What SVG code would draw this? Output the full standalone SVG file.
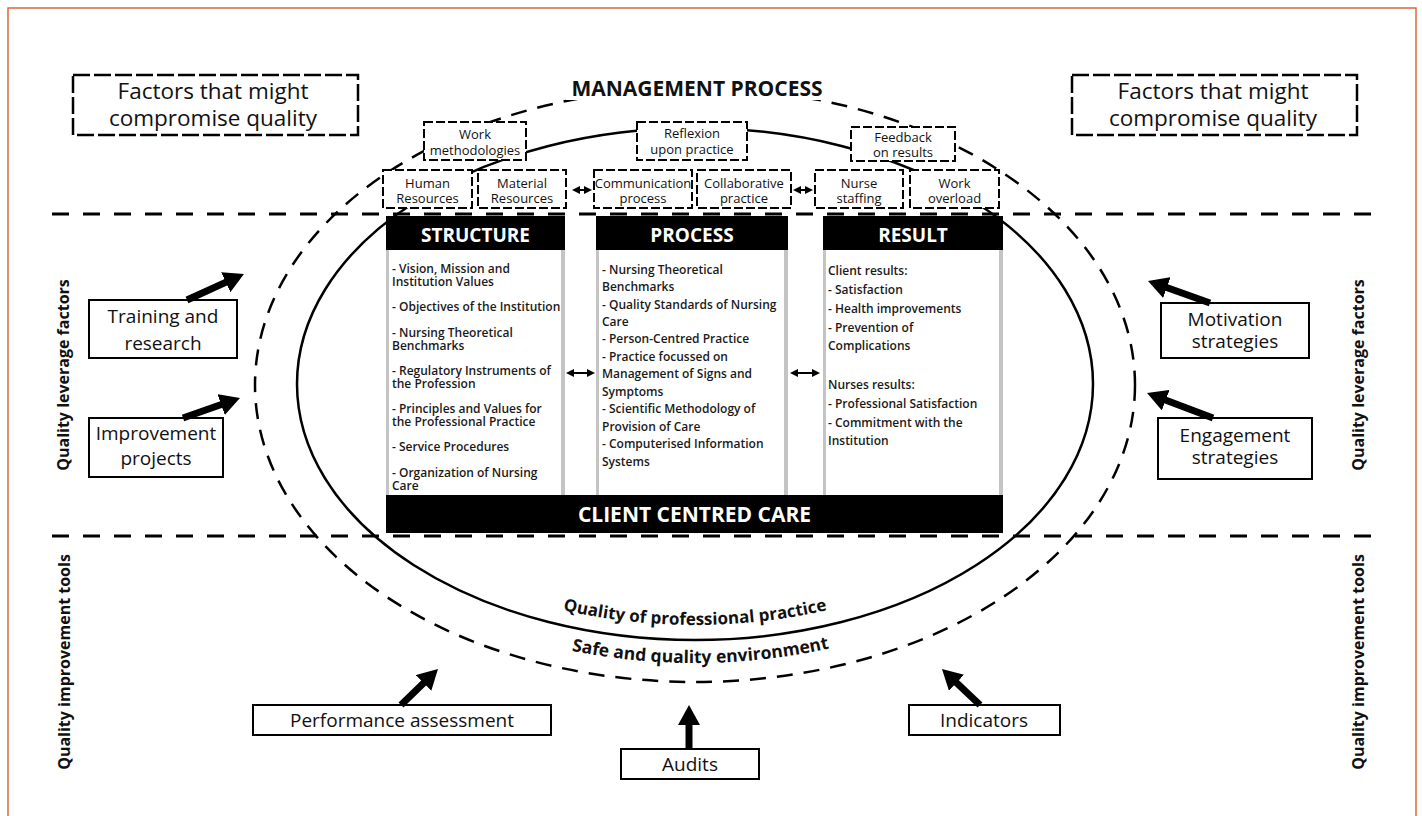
<svg xmlns="http://www.w3.org/2000/svg" width="1422" height="816" viewBox="0 0 1422 816">
<style>
.frame{fill:none;stroke:#d9683b;stroke-width:1.5}
.sep{stroke:#000;stroke-width:3;stroke-dasharray:17 14;fill:none}
.ell{fill:none;stroke:#000;stroke-width:2.5}
.dell{fill:none;stroke:#000;stroke-width:2.5;stroke-dasharray:16 11}
.dbox{fill:#fff;stroke:#000;stroke-width:2.5;stroke-dasharray:17 4}
.sbox{fill:#fff;stroke:#000;stroke-width:2;stroke-dasharray:9 3}
.box{fill:#fff;stroke:#000;stroke-width:2}
text{font-family:"Open Sans","DejaVu Sans",sans-serif;fill:#111}
.big{font-size:22.5px;text-anchor:middle}
.sm{font-size:13px;text-anchor:middle}
.lbl{font-size:19px;text-anchor:middle}
.side{font-size:16px;font-weight:700;text-anchor:middle}
.hdr{font-size:19px;font-weight:700;fill:#fff;text-anchor:middle}
.col{font-size:12px;font-weight:600;fill:#1a1a1a}
.curve{font-size:17px;font-weight:700;text-anchor:middle}
.mp{font-size:21px;font-weight:700;text-anchor:middle}
.thick{stroke:#000;stroke-width:7;fill:none;marker-end:url(#big)}
.dbl{stroke:#000;stroke-width:2;marker-start:url(#sa);marker-end:url(#sa)}
.colbg{fill:#c4c4c4}
.colw{fill:#fff}
.blk{fill:#000}
</style>
<defs>
<marker id="big" markerUnits="userSpaceOnUse" viewBox="0 0 20 22" markerWidth="20" markerHeight="22" refX="4" refY="11" orient="auto"><path d="M0,0 L20,11 L0,22 Z" fill="#000"/></marker>
<marker id="sa" markerUnits="userSpaceOnUse" viewBox="0 0 8 8" markerWidth="8" markerHeight="8" refX="6" refY="4" orient="auto-start-reverse"><path d="M0,0 L8,4 L0,8 Z" fill="#000"/></marker>
<path id="p1" d="M 315 384 A 380 241 0 0 0 1075 384"/>
<path id="p2" d="M 275 384 A 420 279 0 0 0 1115 384"/>
</defs>

<rect class="frame" x="8" y="8" width="1408" height="830"/>

<g id="ellipses">
<ellipse class="dell" cx="695" cy="385" rx="440" ry="297"/>
<ellipse class="ell" cx="695" cy="384" rx="398" ry="256"/>
</g>

<g id="management-process">
<rect x="566" y="78" width="264" height="22" fill="#fff"/>
<text class="mp" x="697" y="96">MANAGEMENT PROCESS</text>
</g>

<g id="factors-left"><rect class="dbox" x="73" y="75" width="285" height="60"/><text class="big" x="213" y="99">Factors that might</text><text class="big" x="213" y="126">compromise quality</text></g>
<g id="factors-right"><rect class="dbox" x="1072" y="75" width="285" height="60"/><text class="big" x="1213" y="99">Factors that might</text><text class="big" x="1213" y="126">compromise quality</text></g>

<g id="work-methodologies"><rect class="sbox" x="424" y="122" width="102" height="38"/><text class="sm" x="475" y="139">Work</text><text class="sm" x="475" y="155">methodologies</text></g>
<g id="reflexion"><rect class="sbox" x="637" y="122" width="110" height="38"/><text class="sm" x="692" y="138">Reflexion</text><text class="sm" x="692" y="154">upon practice</text></g>
<g id="feedback"><rect class="sbox" x="851" y="127" width="104" height="34"/><text class="sm" x="903" y="142">Feedback</text><text class="sm" x="903" y="157">on results</text></g>

<g id="human-resources"><rect class="sbox" x="383" y="170" width="89" height="38"/><text class="sm" x="427.5" y="188">Human</text><text class="sm" x="427.5" y="203">Resources</text></g>
<g id="material-resources"><rect class="sbox" x="478" y="170" width="88" height="38"/><text class="sm" x="522" y="188">Material</text><text class="sm" x="522" y="203">Resources</text></g>
<g id="communication-process"><rect class="sbox" x="594" y="170" width="98" height="38"/><text class="sm" x="643" y="188">Communication</text><text class="sm" x="643" y="203">process</text></g>
<g id="collaborative-practice"><rect class="sbox" x="697" y="170" width="94" height="38"/><text class="sm" x="744" y="188">Collaborative</text><text class="sm" x="744" y="203">practice</text></g>
<g id="nurse-staffing"><rect class="sbox" x="815" y="170" width="88" height="38"/><text class="sm" x="859" y="188">Nurse</text><text class="sm" x="859" y="203">staffing</text></g>
<g id="work-overload"><rect class="sbox" x="910" y="170" width="89" height="38"/><text class="sm" x="954.5" y="188">Work</text><text class="sm" x="954.5" y="203">overload</text></g>

<g id="structure">
<rect class="colbg" x="386" y="250" width="179" height="245"/>
<rect class="colw" x="389" y="250" width="172" height="245"/>
<rect class="blk" x="386" y="216" width="179" height="34"/>
<text class="hdr" x="475.5" y="242">STRUCTURE</text>
<text class="col" x="392"><tspan x="392" y="273">- Vision, Mission and</tspan><tspan x="392" y="286">Institution Values</tspan><tspan x="392" y="311">- Objectives of the Institution</tspan><tspan x="392" y="337">- Nursing Theoretical</tspan><tspan x="392" y="350">Benchmarks</tspan><tspan x="392" y="375">- Regulatory Instruments of</tspan><tspan x="392" y="388">the Profession</tspan><tspan x="392" y="413">- Principles and Values for</tspan><tspan x="392" y="426">the Professional Practice</tspan><tspan x="392" y="451">- Service Procedures</tspan><tspan x="392" y="477">- Organization of Nursing</tspan><tspan x="392" y="490">Care</tspan></text>
</g>

<g id="process">
<rect class="colbg" x="596" y="250" width="192" height="245"/>
<rect class="colw" x="599" y="250" width="185" height="245"/>
<rect class="blk" x="596" y="216" width="192" height="34"/>
<text class="hdr" x="692" y="242">PROCESS</text>
<text class="col" x="602"><tspan x="602" y="274">- Nursing Theoretical</tspan><tspan x="602" y="291">Benchmarks</tspan><tspan x="602" y="309">- Quality Standards of Nursing</tspan><tspan x="602" y="326">Care</tspan><tspan x="602" y="343">- Person-Centred Practice</tspan><tspan x="602" y="361">- Practice focussed on</tspan><tspan x="602" y="378">Management of Signs and</tspan><tspan x="602" y="396">Symptoms</tspan><tspan x="602" y="413">- Scientific Methodology of</tspan><tspan x="602" y="431">Provision of Care</tspan><tspan x="602" y="448">- Computerised Information</tspan><tspan x="602" y="466">Systems</tspan></text>
</g>

<g id="result">
<rect class="colbg" x="823" y="250" width="180" height="245"/>
<rect class="colw" x="826" y="250" width="173" height="245"/>
<rect class="blk" x="823" y="216" width="180" height="34"/>
<text class="hdr" x="913" y="242">RESULT</text>
<text class="col" x="828"><tspan x="828" y="275">Client results:</tspan><tspan x="828" y="294">- Satisfaction</tspan><tspan x="828" y="313">- Health improvements</tspan><tspan x="828" y="332">- Prevention of</tspan><tspan x="828" y="350">Complications</tspan><tspan x="828" y="389">Nurses results:</tspan><tspan x="828" y="408">- Professional Satisfaction</tspan><tspan x="828" y="427">- Commitment with the</tspan><tspan x="828" y="445">Institution</tspan></text>
</g>

<g id="client-centred-care">
<rect class="blk" x="386" y="495" width="617" height="38"/>
<text x="694.5" y="522" style="font-size:21px;font-weight:700;fill:#fff;text-anchor:middle">CLIENT CENTRED CARE</text>
</g>

<g id="separators">
<line class="sep" x1="52" y1="214" x2="1385" y2="214"/>
<line class="sep" x1="52" y1="536" x2="1385" y2="536"/>
</g>

<g id="side-labels">
<text class="side" transform="translate(69,375) rotate(-90)">Quality leverage factors</text>
<text class="side" transform="translate(70,662) rotate(-90)">Quality improvement tools</text>
<text class="side" transform="translate(1364,375) rotate(-90)">Quality leverage factors</text>
<text class="side" transform="translate(1364,662) rotate(-90)">Quality improvement tools</text>
</g>

<g id="curved-labels">
<text class="curve"><textPath href="#p1" startOffset="50%">Quality of professional practice</textPath></text>
<text class="curve" style="font-size:17.5px"><textPath href="#p2" startOffset="50.5%">Safe and quality environment</textPath></text>
</g>

<g id="training"><rect class="box" x="89" y="300" width="148" height="58"/><text class="lbl" x="163" y="323">Training and</text><text class="lbl" x="163" y="350">research</text></g>
<g id="improvement"><rect class="box" x="89" y="418" width="134" height="59"/><text class="lbl" x="156" y="440">Improvement</text><text class="lbl" x="156" y="465">projects</text></g>
<g id="motivation"><rect class="box" x="1161" y="303" width="148" height="55"/><text class="lbl" x="1235" y="326">Motivation</text><text class="lbl" x="1235" y="348">strategies</text></g>
<g id="engagement"><rect class="box" x="1158" y="418" width="154" height="61"/><text class="lbl" x="1235" y="442">Engagement</text><text class="lbl" x="1235" y="464">strategies</text></g>
<g id="performance"><rect class="box" x="253" y="705" width="298" height="30"/><text class="lbl" x="402" y="727">Performance assessment</text></g>
<g id="audits"><rect class="box" x="621" y="749" width="138" height="30"/><text class="lbl" x="690" y="771">Audits</text></g>
<g id="indicators"><rect class="box" x="909" y="705" width="151" height="30"/><text class="lbl" x="984" y="727">Indicators</text></g>

<g id="connectors">
<line class="thick" x1="187" y1="300" x2="229.4" y2="280.6"/>
<line class="thick" x1="183" y1="418" x2="224.9" y2="403.3"/>
<line class="thick" x1="1210" y1="303" x2="1163.1" y2="286.3"/>
<line class="thick" x1="1213" y1="418" x2="1162" y2="398.7"/>
<line class="thick" x1="401" y1="705" x2="426.5" y2="680.2"/>
<line class="thick" x1="689" y1="749" x2="689" y2="721"/>
<line class="thick" x1="980" y1="705" x2="953.6" y2="680"/>
<line class="dbl" x1="574" y1="190" x2="590" y2="190"/>
<line class="dbl" x1="795" y1="190" x2="811" y2="190"/>
<line class="dbl" x1="568" y1="373" x2="593" y2="373"/>
<line class="dbl" x1="792" y1="373" x2="818" y2="373"/>
</g>
</svg>
